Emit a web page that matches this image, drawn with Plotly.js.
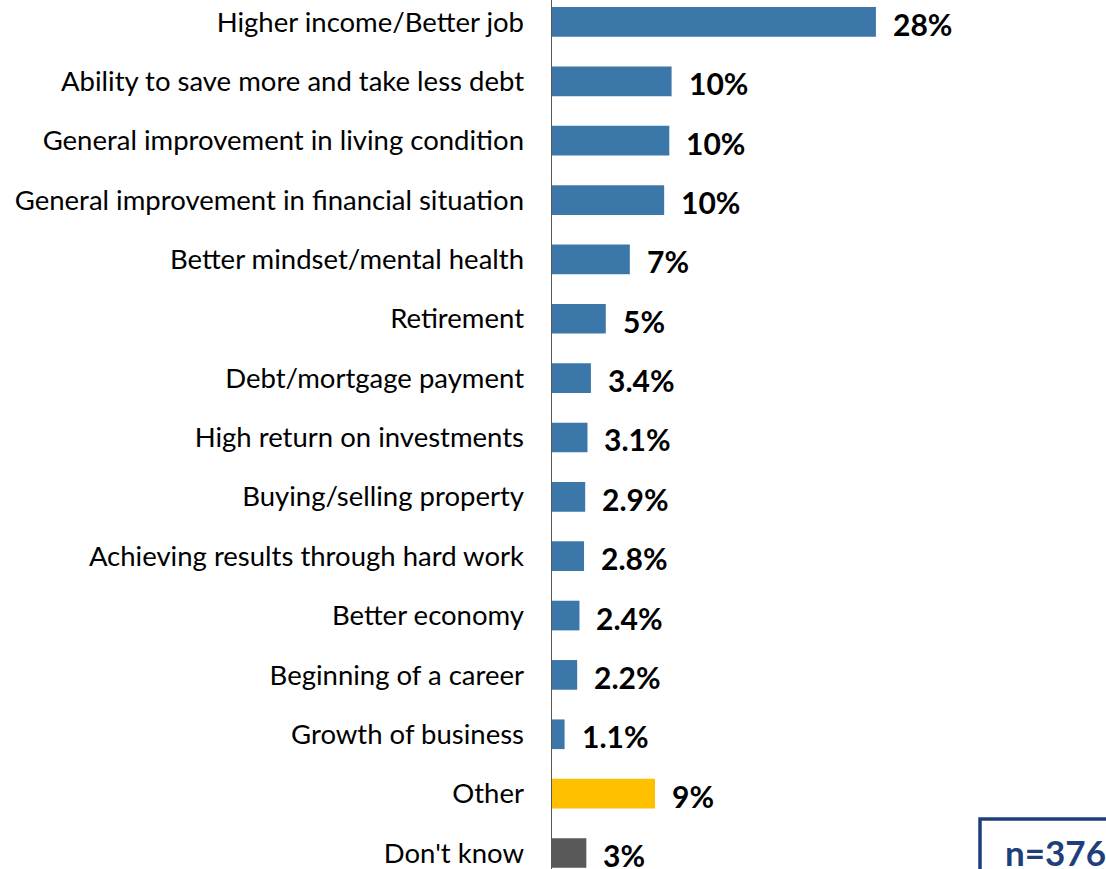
<!DOCTYPE html>
<html>
<head>
<meta charset="utf-8">
<script src="https://cdn.plot.ly/plotly-3.0.1.min.js"></script>
<style>
html,body{margin:0;padding:0;background:#fff;}
#chart{width:1106px;height:869px;}
</style>
</head>
<body>
<div id="chart"></div>
<script>
const categories = [
  "Higher income/Better job",
  "Ability to save more and take less debt",
  "General improvement in living condition",
  "General improvement in financial situation",
  "Better mindset/mental health",
  "Retirement",
  "Debt/mortgage payment",
  "High return on investments",
  "Buying/selling property",
  "Achieving results through hard work",
  "Better economy",
  "Beginning of a career",
  "Growth of business",
  "Other",
  "Don't know"
];
const values = [28.3, 10.45, 10.25, 9.8, 6.8, 4.7, 3.4, 3.1, 2.9, 2.8, 2.4, 2.2, 1.1, 9.0, 3.0];
const valueLabels = ["28%", "10%", "10%", "10%", "7%", "5%", "3.4%", "3.1%", "2.9%", "2.8%", "2.4%", "2.2%", "1.1%", "9%", "3%"];
const barColors = ["#3B78A9","#3B78A9","#3B78A9","#3B78A9","#3B78A9","#3B78A9","#3B78A9","#3B78A9","#3B78A9","#3B78A9","#3B78A9","#3B78A9","#3B78A9","#FFC000","#595959"];
const sampleNote = "n=376";

const FONT = "Lato, 'Open Sans', sans-serif";

const trace = {
  type: "bar",
  orientation: "h",
  y: categories,
  x: values,
  marker: {color: barColors, line: {width: 0}},
  width: 0.5,
  hoverinfo: "skip"
};

const annotations = categories.map((c, i) => ({
  x: values[i], y: c, xref: "x", yref: "y",
  text: "<b>" + valueLabels[i] + "</b>",
  showarrow: false, xanchor: "left", yanchor: "middle",
  xshift: 15, yshift: -2,
  font: {family: FONT, size: 30, color: "#000"}
}));

annotations.push({
  xref: "paper", yref: "paper", x: 1.0, y: 0.0,
  xanchor: "right", yanchor: "bottom",
  text: "<b>" + sampleNote + "</b>",
  showarrow: false, xshift: 2, yshift: -6,
  font: {family: FONT, size: 35, color: "#1F3F7A"}
});

const layout = {
  width: 1106, height: 869,
  margin: {l: 552, r: 0, t: 0, b: 0, pad: 0},
  paper_bgcolor: "#fff", plot_bgcolor: "#fff",
  showlegend: false,
  xaxis: {
    range: [0, 48.4],
    showgrid: false, zeroline: false, showline: false,
    showticklabels: false, ticks: "", fixedrange: true
  },
  yaxis: {
    type: "category",
    range: [14.27, -0.37],
    showgrid: false, zeroline: false,
    showline: true, linecolor: "#595959", linewidth: 1.5,
    ticks: "", ticklabelstandoff: 21,
    tickfont: {family: FONT, size: 27.5, color: "#000"},
    fixedrange: true
  },
  annotations: annotations,
  shapes: [{
    type: "rect", xref: "paper", yref: "paper",
    x0: (980 - 552) / 554, x1: 1.05, y0: -0.05, y1: (869 - 819) / 869,
    line: {color: "#1F3F7A", width: 3.5}, fillcolor: "rgba(0,0,0,0)"
  }]
};

Plotly.newPlot("chart", [trace], layout, {displayModeBar: false, staticPlot: true});
</script>
</body>
</html>
